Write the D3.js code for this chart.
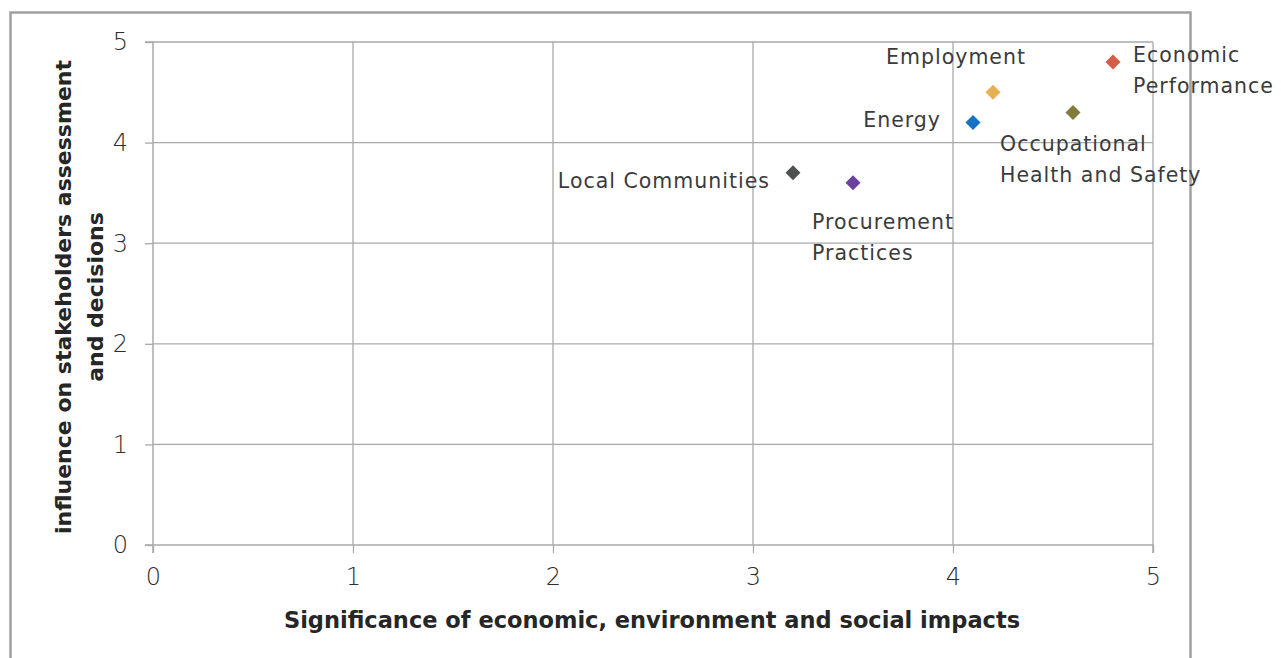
<!DOCTYPE html>
<html>
<head>
<meta charset="utf-8">
<script src="https://cdn.jsdelivr.net/npm/d3@7"></script>
<style>
  html, body { margin: 0; padding: 0; background: #fff; }
  svg { display: block; }
  text { font-family: "DejaVu Sans", sans-serif; }
</style>
</head>
<body>
<svg id="chart" width="1281" height="658"></svg>
<script>
// ---- data ----
const topics = ["Economic Performance", "Employment", "Occupational Health and Safety", "Energy", "Local Communities", "Procurement Practices"];
const significance = [4.8, 4.2, 4.6, 4.1, 3.2, 3.5];
const influence = [4.8, 4.5, 4.3, 4.2, 3.7, 3.6];
const colors = ["#d35d45", "#e6b154", "#7e7d3d", "#1471c3", "#4d5251", "#6b41a0"];
const xTicks = [0, 1, 2, 3, 4, 5];
const yTicks = [0, 1, 2, 3, 4, 5];
const xTitle = "Significance of economic, environment and social impacts";
const yTitleLines = ["influence on stakeholders assessment", "and decisions"];

// label line breaks and placement (styling)
const labelLines = {
  "Economic Performance": ["Economic", "Performance"],
  "Employment": ["Employment"],
  "Occupational Health and Safety": ["Occupational", "Health and Safety"],
  "Energy": ["Energy"],
  "Local Communities": ["Local Communities"],
  "Procurement Practices": ["Procurement", "Practices"]
};
const labelPlace = {
  "Economic Performance": {dx: 20, dy: -7, anchor: "start"},
  "Employment": {dx: 33, dy: -35, anchor: "end"},
  "Occupational Health and Safety": {dx: -73, dy: 32, anchor: "start"},
  "Energy": {dx: -32, dy: -2, anchor: "end"},
  "Local Communities": {dx: -23, dy: 8, anchor: "end"},
  "Procurement Practices": {dx: -41, dy: 39, anchor: "start"}
};

const svg = d3.select("#chart");
const pLeft = 153, pRight = 1153, pTop = 42, pBottom = 545;
const x = d3.scaleLinear().domain([0, 5]).range([pLeft, pRight]);
const y = d3.scaleLinear().domain([0, 5]).range([pBottom, pTop]);
const grid = "#a9a9a9";
const textColor = "#3b3b3b";
const labelFont = {size: "20.5px", spacing: "1px"};

// outer frame
svg.append("rect").attr("x", 10.5).attr("y", 12.5).attr("width", 1180).attr("height", 660)
  .attr("fill", "none").attr("stroke", "#a0a0a0").attr("stroke-width", 2.5);

// gridlines
svg.append("g").selectAll("line").data(yTicks.filter(d => d > 0)).join("line")
  .attr("x1", pLeft).attr("x2", pRight).attr("y1", d => y(d)).attr("y2", d => y(d))
  .attr("stroke", grid).attr("stroke-width", 1.3);
svg.append("g").selectAll("line").data(xTicks.filter(d => d > 0)).join("line")
  .attr("x1", d => x(d)).attr("x2", d => x(d)).attr("y1", pTop).attr("y2", pBottom)
  .attr("stroke", grid).attr("stroke-width", 1.3);

// axes
const xAxis = d3.axisBottom(x).tickValues(xTicks).tickSize(8).tickPadding(15).tickFormat(d3.format("d"));
const yAxis = d3.axisLeft(y).tickValues(yTicks).tickSize(8).tickPadding(17).tickFormat(d3.format("d"));
const gx = svg.append("g").attr("transform", `translate(0,${pBottom})`).call(xAxis);
const gy = svg.append("g").attr("transform", `translate(${pLeft},0)`).call(yAxis);
[gx, gy].forEach(g => {
  g.select(".domain").attr("stroke", grid).attr("stroke-width", 1.5);
  g.selectAll(".tick line").attr("stroke", grid).attr("stroke-width", 1.3);
  g.selectAll(".tick text").attr("fill", "#2e2e2e").style("font-size", "24px")
    .style("font-family", "'DejaVu Sans', sans-serif").style("font-weight", "300");
});
gy.selectAll(".tick text").attr("dy", "0.33em");
gy.select(".domain").attr("d", `M-8,${pTop}H0V${pBottom}H-8`);
gx.select(".domain").attr("d", `M${pLeft},8V0H${pRight}V8`);

// axis titles
svg.append("text").attr("x", 652).attr("y", 628).attr("text-anchor", "middle")
  .attr("fill", "#262626").style("font-size", "22.5px").style("font-weight", "bold").text(xTitle);
const yt = svg.append("text").attr("transform", "translate(0,297) rotate(-90)")
  .attr("text-anchor", "middle").attr("fill", "#262626").style("font-size", "22px").style("font-weight", "bold");
yTitleLines.forEach((t, i) => {
  yt.append("tspan").attr("x", 0).attr("y", 71 + i * 32).text(t);
});

// points
const pts = topics.map((t, i) => ({name: t, sx: significance[i], iy: influence[i], c: colors[i]}));
const r = 7.5;
svg.append("g").selectAll("path").data(pts).join("path")
  .attr("d", d => `M${x(d.sx)},${y(d.iy) - r}L${x(d.sx) + r},${y(d.iy)}L${x(d.sx)},${y(d.iy) + r}L${x(d.sx) - r},${y(d.iy)}Z`)
  .attr("fill", d => d.c);

// labels
const lg = svg.append("g");
pts.forEach(d => {
  const p = labelPlace[d.name];
  const t = lg.append("text").attr("text-anchor", p.anchor).attr("fill", textColor)
    .style("font-size", labelFont.size).style("letter-spacing", labelFont.spacing).style("font-weight", "normal");
  labelLines[d.name].forEach((line, i) => {
    t.append("tspan").attr("x", x(d.sx) + p.dx).attr("y", y(d.iy) + p.dy + 7 + i * 31).text(line);
  });
});
</script>
</body>
</html>
